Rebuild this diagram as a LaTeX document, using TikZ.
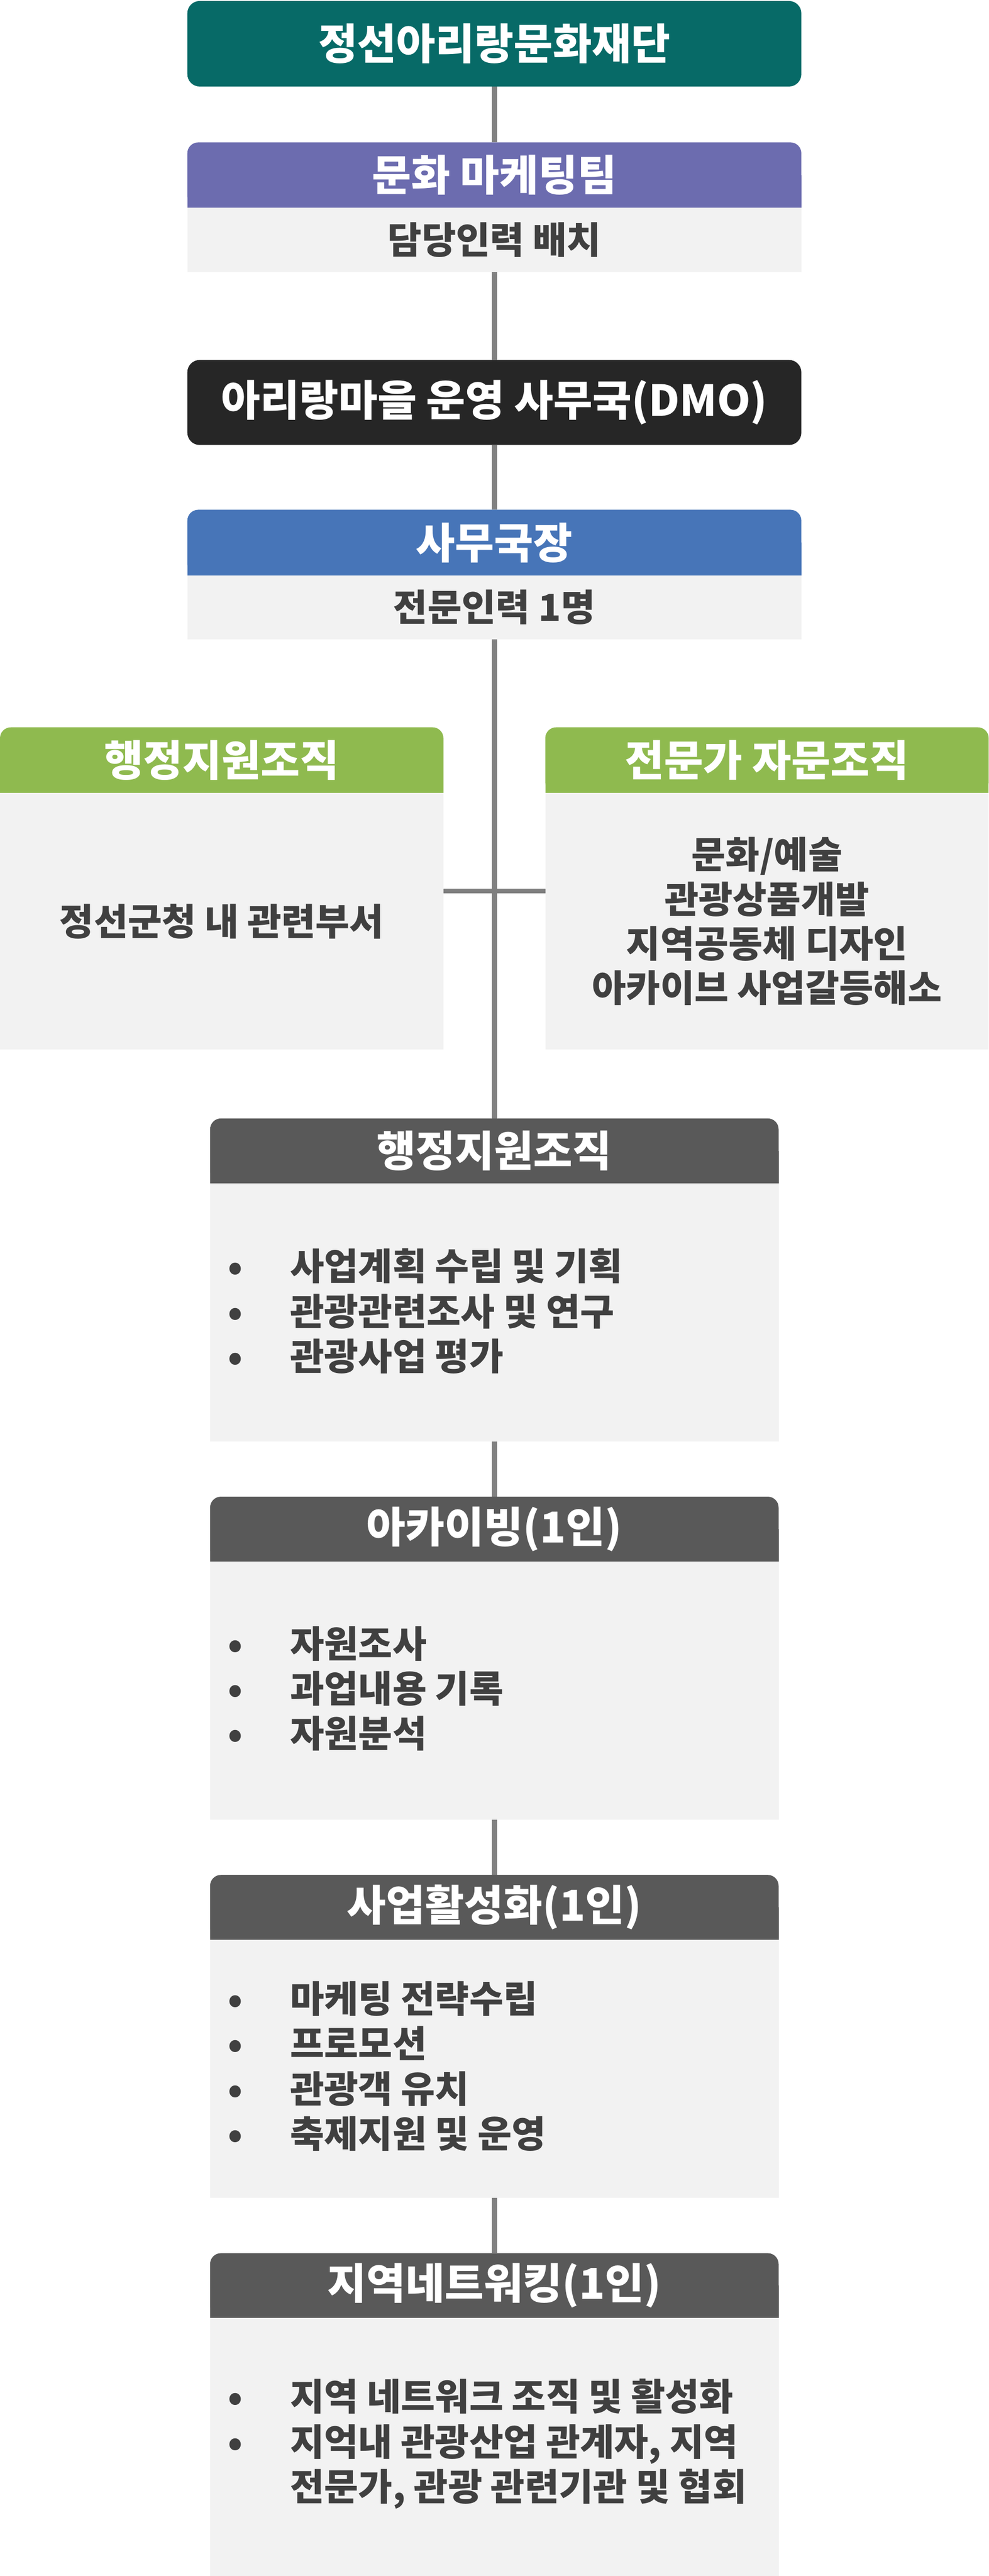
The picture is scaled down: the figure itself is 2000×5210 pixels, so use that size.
\documentclass[tikz,border=0pt]{standalone}
\usepackage{fontspec}
\setmainfont{Noto Sans CJK KR}
\definecolor{cTeal}{HTML}{076A67}
\definecolor{cPurple}{HTML}{6C6CAF}
\definecolor{cBlack}{HTML}{262626}
\definecolor{cBlue}{HTML}{4775B8}
\definecolor{cGreen}{HTML}{8FBA4F}
\definecolor{cDark}{HTML}{595959}
\definecolor{cBody}{HTML}{F2F2F2}
\definecolor{cLine}{HTML}{7F7F7F}
\definecolor{cText}{HTML}{404040}
\newcommand{\fHead}{\fontsize{86pt}{100pt}\selectfont\bfseries}
\newcommand{\fBody}{\fontsize{75pt}{91pt}\selectfont\bfseries}
\newcommand{\mybul}{\makebox[0pt][c]{•}\hspace*{111pt}}
\begin{document}
\begin{tikzpicture}[x=1pt,y=-1pt,
  hdr/.style={rectangle, inner sep=0pt, outer sep=0pt, rounded corners=22pt},
  bodybox/.style={rectangle, inner sep=0pt, outer sep=0pt, fill=cBody},
  htext/.style={text=white, font=\fHead, inner sep=0pt},
  btext/.style={text=cText, font=\fBody, inner sep=0pt},
  ltext/.style={text=cText, font=\fBody, inner sep=0pt, align=left, anchor=west},
  conn/.style={draw=cLine, line width=10pt}]
\useasboundingbox (0,0) rectangle (2000,5210);
% top
\node[hdr, fill=cTeal, minimum width=1242pt, minimum height=173pt, rounded corners=25pt] (top) at (1000,88.5) {};
\node[htext] (topT) at (top.center) {정선아리랑문화재단};
% purple
\node[hdr, fill=cPurple, minimum width=1242pt, minimum height=132pt] (pH) at (1000,354) {};
\fill[cPurple] (pH.west) rectangle (pH.south east);
\node[htext] (pHT) at (pH.center) {문화 마케팅팀};
\node[bodybox, minimum width=1242pt, minimum height=130pt] (pB) at (1000,485) {};
\node[btext] (pBT) at (pB.center) {담당인력 배치};
% DMO
\node[hdr, fill=cBlack, minimum width=1242pt, minimum height=172pt, rounded corners=25pt] (dmo) at (1000,814) {};
\node[htext] (dmoT) at (dmo.center) {아리랑마을 운영 사무국(DMO)};
% blue
\node[hdr, fill=cBlue, minimum width=1242pt, minimum height=133pt] (bH) at (1000,1097.5) {};
\fill[cBlue] (bH.west) rectangle (bH.south east);
\node[htext] (bHT) at (bH.center) {사무국장};
\node[bodybox, minimum width=1242pt, minimum height=129pt] (bB) at (1000,1228.5) {};
\node[btext] (bBT) at (bB.center) {전문인력 1명};
% green left
\node[hdr, fill=cGreen, minimum width=897pt, minimum height=133pt] (glH) at (448.5,1537.5) {};
\fill[cGreen] (glH.west) rectangle (glH.south east);
\node[htext] (glHT) at (glH.center) {행정지원조직};
\node[bodybox, minimum width=897pt, minimum height=519pt] (glB) at (448.5,1863.5) {};
\node[btext] (glBT) at (glB.center) {정선군청 내 관련부서};
% green right
\node[hdr, fill=cGreen, minimum width=897pt, minimum height=133pt] (grH) at (1551.5,1537.5) {};
\fill[cGreen] (grH.west) rectangle (grH.south east);
\node[htext] (grHT) at (grH.center) {전문가 자문조직};
\node[bodybox, minimum width=897pt, minimum height=519pt] (grB) at (1551.5,1863.5) {};
\node[btext, align=center, font=\fontsize{75pt}{90pt}\selectfont\bfseries] (grBT) at (grB.center) {문화/예술\\관광상품개발\\지역공동체 디자인\\아카이브 사업갈등해소};
% dark 1
\node[hdr, fill=cDark, minimum width=1150pt, minimum height=131pt] (d1H) at (1000,2327.5) {};
\fill[cDark] (d1H.west) rectangle (d1H.south east);
\node[htext] (d1HT) at (d1H.center) {행정지원조직};
\node[bodybox, minimum width=1150pt, minimum height=522pt] (d1B) at (1000,2654) {};
\node[ltext] (d1BT) at (476,2652) {\mybul 사업계획 수립 및 기획\\\mybul 관광관련조사 및 연구\\\mybul 관광사업 평가};
% dark 2
\node[hdr, fill=cDark, minimum width=1150pt, minimum height=131pt] (d2H) at (1000,3092.5) {};
\fill[cDark] (d2H.west) rectangle (d2H.south east);
\node[htext] (d2HT) at (d2H.center) {아카이빙(1인)};
\node[bodybox, minimum width=1150pt, minimum height=522pt] (d2B) at (1000,3419) {};
\node[ltext] (d2BT) at (476,3415) {\mybul 자원조사\\\mybul 과업내용 기록\\\mybul 자원분석};
% dark 3
\node[hdr, fill=cDark, minimum width=1150pt, minimum height=131pt] (d3H) at (1000,3857.5) {};
\fill[cDark] (d3H.west) rectangle (d3H.south east);
\node[htext] (d3HT) at (d3H.center) {사업활성화(1인)};
\node[bodybox, minimum width=1150pt, minimum height=522pt] (d3B) at (1000,4184) {};
\node[ltext] (d3BT) at (476,4179) {\mybul 마케팅 전략수립\\\mybul 프로모션\\\mybul 관광객 유치\\\mybul 축제지원 및 운영};
% dark 4
\node[hdr, fill=cDark, minimum width=1150pt, minimum height=131pt] (d4H) at (1000,4622.5) {};
\fill[cDark] (d4H.west) rectangle (d4H.south east);
\node[htext] (d4HT) at (d4H.center) {지역네트워킹(1인)};
\node[bodybox, minimum width=1150pt, minimum height=522pt] (d4B) at (1000,4949) {};
\node[ltext] (d4BT) at (476,4943) {\mybul 지역 네트워크 조직 및 활성화\\\mybul 지억내 관광산업 관계자, 지역\\\hspace*{111pt}전문가, 관광 관련기관 및 협회};
% connectors
\coordinate (jn) at (1000,1802);
\draw[conn] (top.south) -- (pH.north);
\draw[conn] (pB.south) -- (dmo.north);
\draw[conn] (dmo.south) -- (bH.north);
\draw[conn] (bB.south) -- (d1H.north);
\draw[conn] (glB.east |- jn) -- (grB.west |- jn);
\draw[conn] (d1B.south) -- (d2H.north);
\draw[conn] (d2B.south) -- (d3H.north);
\draw[conn] (d3B.south) -- (d4H.north);
\end{tikzpicture}
\end{document}
